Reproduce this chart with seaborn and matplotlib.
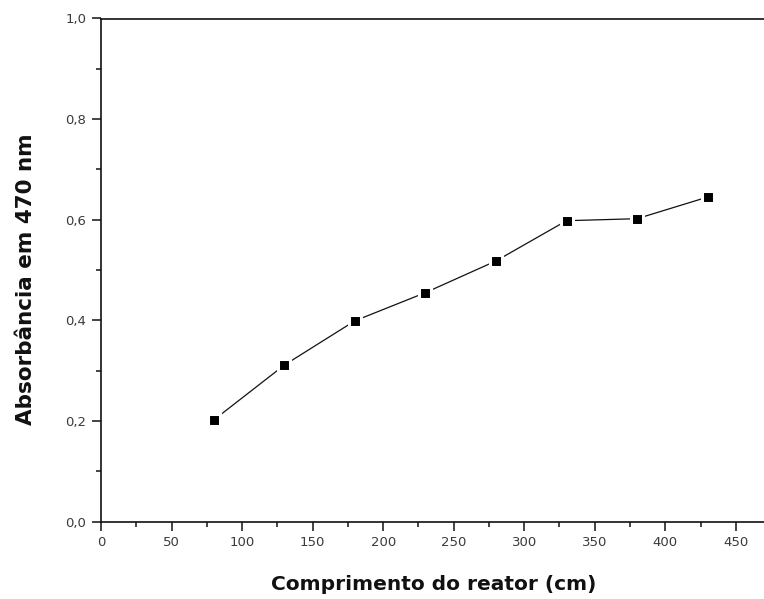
import matplotlib
matplotlib.use("Agg")
import matplotlib.pyplot as plt
import seaborn as sns
import pandas as pd
from matplotlib.ticker import MultipleLocator, FuncFormatter

# Data
comprimento = [80, 130, 180, 230, 280, 330, 380, 430]
absorbancia = [0.202, 0.311, 0.399, 0.455, 0.518, 0.598, 0.602, 0.645]

x_label = "Comprimento do reator (cm)"
y_label = "Absorbância em 470 nm"

sns.set_style("ticks")
plt.rcParams['font.family'] = ['DejaVu Sans']

df = pd.DataFrame({"x": comprimento, "y": absorbancia})

fig = plt.figure(figsize=(7.64, 5.99), dpi=100)
ax = fig.add_axes([101/764, 1 - 521.5/599, 1 - 101/764, 503/599])

sns.lineplot(data=df, x="x", y="y", ax=ax, color="#111111", linewidth=0.9,
             marker="s", markersize=8.6, markerfacecolor="black",
             markeredgecolor="white", markeredgewidth=2.2)

ax.set_xlim(0, 470)
ax.set_ylim(0, 1.0)
ax.xaxis.set_major_locator(MultipleLocator(50))
ax.xaxis.set_minor_locator(MultipleLocator(25))
ax.yaxis.set_major_locator(MultipleLocator(0.2))
ax.yaxis.set_minor_locator(MultipleLocator(0.1))
ax.yaxis.set_major_formatter(FuncFormatter(lambda v, p: f"{v:.1f}".replace(".", ",")))

for s in ["left", "bottom", "top"]:
    ax.spines[s].set_visible(True)
    ax.spines[s].set_linewidth(1.2)
    ax.spines[s].set_color("#111111")
ax.spines["right"].set_visible(False)

ax.tick_params(which="major", direction="out", length=6.5, width=1.1, color="#111111",
               labelsize=9.5, labelcolor="#3a3a3a", pad=4)
ax.tick_params(which="minor", direction="out", length=3.8, width=1.1, color="#111111")
ax.tick_params(top=False, right=False, which="both")

ax.set_xlabel(x_label, fontsize=14.5, fontweight="bold", color="#111111")
ax.set_ylabel(y_label, fontsize=15.5, fontweight="bold", color="#111111")
ax.xaxis.set_label_coords((434 - 101) / 663, (521.5 - 585) / 503)
ax.yaxis.set_label_coords((26 - 101) / 663, (521.5 - 279) / 503)
ax.xaxis.label.set_va("center")
ax.yaxis.label.set_va("center")

fig.savefig("out.png", dpi=100)
